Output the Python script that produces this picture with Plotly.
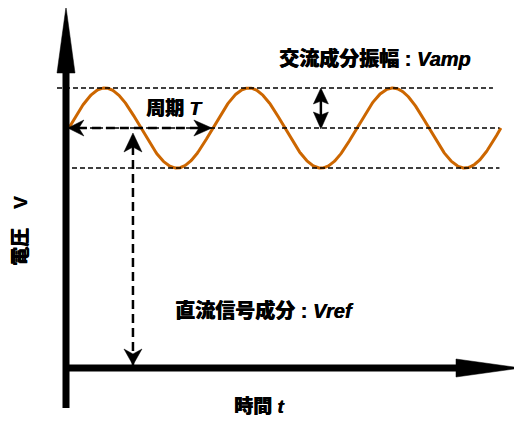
import numpy as np
import plotly.graph_objects as go

# ---- diagram values (time in periods, voltage in arbitrary units) ----
period = 1.0          # T
v_ref = 3.0           # DC component Vref
v_amp = 0.5           # AC amplitude Vamp
n_cycles = 3
t_start = 0.02        # where the wave begins (just right of the V axis)
vref_marker_t = 0.465 # where the Vref arrow is drawn
vamp_marker_t = 1.77  # where the Vamp arrow is drawn

label_time = "時間 <i>t</i>"
label_volt = "電圧　V"
label_period = "周期 <i>T</i>"
label_vamp = "交流成分振幅 : <i>Vamp</i>"
label_vref = "直流信号成分 : <i>Vref</i>"

# ---- scale (pixels per data unit) and page offset of the figure ----
PX_T = 144.0
PX_V = 80.0
OFF = 8  # the page body margin shifts the figure by this many pixels


def X(px):
    return (px - 66) / PX_T


def Y(px):
    return (368 - px) / PX_V


x_range = [X(OFF), X(OFF + 522)]
y_range = [Y(OFF + 421), Y(OFF)]

ORANGE = "#CC6600"
FONT = "Liberation Sans, Noto Sans CJK JP, sans-serif"

t = np.linspace(t_start, t_start + n_cycles * period, 600)
v = v_ref + v_amp * np.sin(2 * np.pi * (t - t_start) / period)


def head(tip_t, tip_v, direction, length, halfw, notch=0.0):
    d = {"right": (1, 0), "left": (-1, 0), "up": (0, -1), "down": (0, 1)}[direction]
    n = (-d[1], d[0])
    pts = [(0, 0),
           (-d[0] * length + n[0] * halfw, -d[1] * length + n[1] * halfw),
           (-d[0] * (length - notch), -d[1] * (length - notch)),
           (-d[0] * length - n[0] * halfw, -d[1] * length - n[1] * halfw)]
    path = ""
    for i, (ox, oy) in enumerate(pts):
        path += ("M" if i == 0 else "L") + f"{tip_t + ox / PX_T},{tip_v - oy / PX_V} "
    path += "Z"
    return dict(type="path", path=path, xref="x", yref="y",
                fillcolor="black", line=dict(color="black", width=0.5))


def line(x0, y0, x1, y1, width, dash="solid", color="black"):
    return dict(type="line", x0=x0, y0=y0, x1=x1, y1=y1, xref="x", yref="y",
                line=dict(color=color, width=width, dash=dash))


shapes = []
# guide dashed lines
shapes.append(line(-9 / PX_T, v_ref + v_amp, 2.965, v_ref + v_amp, 1.4, "5px,3px"))
shapes.append(line(0, v_ref, 3.01, v_ref, 1.4, "5px,3px"))
shapes.append(line(6 / PX_T, v_ref - v_amp, 3.01, v_ref - v_amp, 1.4, "5px,3px"))

# axes
y_axis_top = 361 / PX_V
x_axis_end = 521 / PX_T - 66 / PX_T
shapes.append(line(0, -40 / PX_V, 0, y_axis_top - 60 / PX_V, 7))
shapes.append(head(0, y_axis_top, "up", 66, 9))
shapes.append(line(-3 / PX_T, 0, x_axis_end - 60 / PX_T, 0, 7))
shapes.append(head(x_axis_end, 0, "right", 65, 9))

# period arrow
p0 = t_start - 1 / PX_T
p1 = t_start + period - 1 / PX_T
shapes.append(line(p0 + 10 / PX_T, v_ref, p1 - 12 / PX_T, v_ref, 2.5, "9px,5px"))
shapes.append(head(p0, v_ref, "left", 16, 8, 5))
shapes.append(head(p1, v_ref, "right", 18, 8, 5))

# Vref arrow
shapes.append(line(vref_marker_t, 3 / PX_V, vref_marker_t, v_ref - 8 / PX_V, 2.5, "9px,5px"))
shapes.append(head(vref_marker_t, v_ref - 5 / PX_V, "up", 19, 9, 5))
shapes.append(head(vref_marker_t, 3 / PX_V, "down", 16, 9, 5))

# Vamp arrow
shapes.append(line(vamp_marker_t, v_ref + 3 / PX_V, vamp_marker_t, v_ref + v_amp - 5 / PX_V, 2.5))
shapes.append(head(vamp_marker_t, v_ref + v_amp, "up", 16, 7.5, 3))
shapes.append(head(vamp_marker_t, v_ref - 1 / PX_V, "down", 17, 7.5, 3))

fig = go.Figure()
fig.add_trace(go.Scatter(x=t, y=v, mode="lines", line=dict(color=ORANGE, width=3),
                         hoverinfo="skip"))


def ann(text, x, y, size=20, angle=0):
    return dict(text=text, x=x, y=y, xref="x", yref="y", showarrow=False,
                xanchor="center", yanchor="middle", textangle=angle,
                font=dict(family=FONT, size=size, color="black", weight=900,
                          shadow="0.5px 0px 0px black"))


annotations = [
    ann(label_vamp, X(375), Y(58)),
    ann(label_period, X(174), Y(108), size=19),
    ann(label_vref, X(264), Y(310)),
    ann(label_time, X(259), Y(406), size=19),
    ann(label_volt, X(20), Y(231), size=19, angle=-90),
]

fig.update_layout(
    width=522, height=421, autosize=False,
    margin=dict(l=0, r=0, t=0, b=0),
    paper_bgcolor="white", plot_bgcolor="white",
    showlegend=False,
    xaxis=dict(range=x_range, visible=False, fixedrange=True),
    yaxis=dict(range=y_range, visible=False, fixedrange=True),
    shapes=shapes, annotations=annotations,
)
fig.write_html("out.html")
